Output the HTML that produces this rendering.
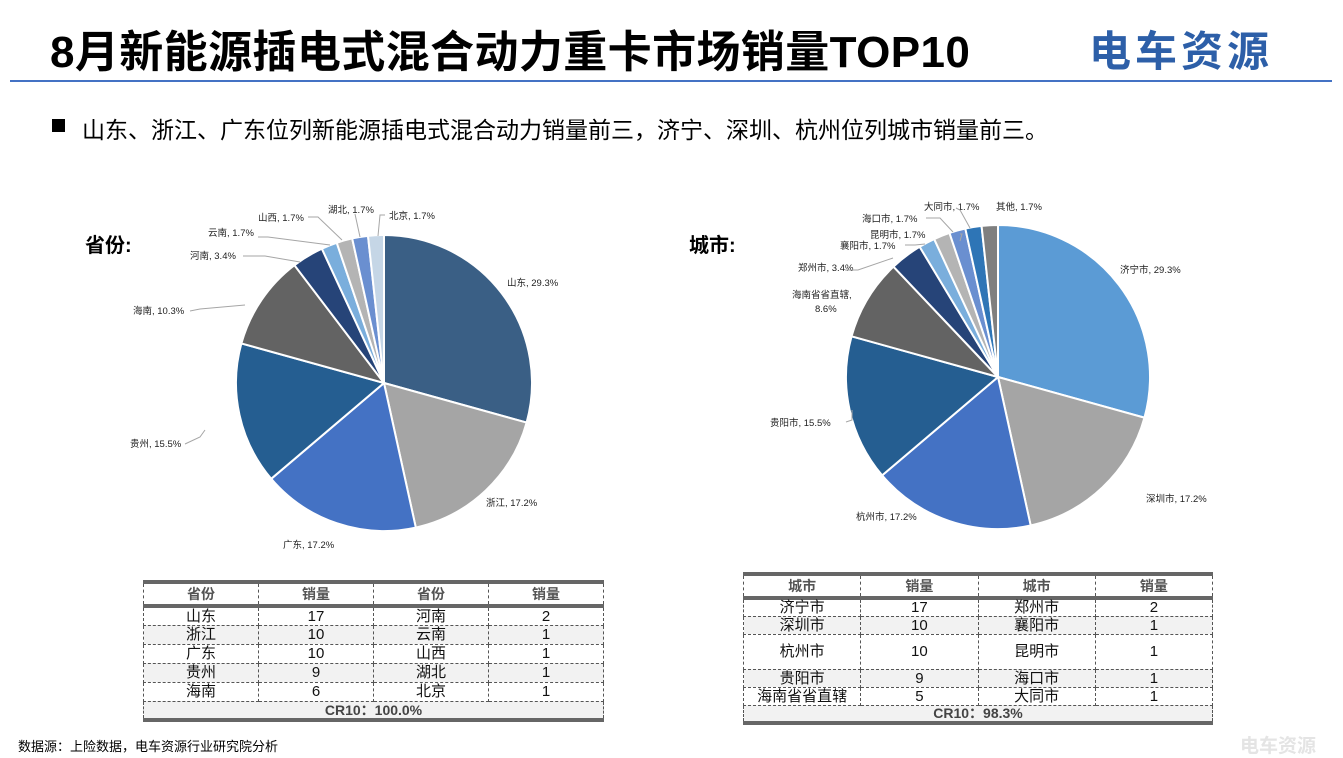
<!DOCTYPE html>
<html><head><meta charset="utf-8"><style>
*{margin:0;padding:0;box-sizing:border-box}
body{width:1343px;height:755px;background:#fff;position:relative;overflow:hidden;font-family:"Liberation Sans","Noto Sans CJK SC",sans-serif;color:#000}
.a{position:absolute;white-space:nowrap}
table{position:absolute;border-collapse:collapse;font-size:15px;text-align:center;color:#111;table-layout:fixed}
td{border:1px dashed #555;padding:0;line-height:1}
th{border:1px dashed #555;color:#555;font-weight:bold;font-size:14px}
tr.g td{background:#f2f2f2}
</style></head><body>
<div class="a" style="left:50px;top:16px;font-size:44px;font-weight:bold;letter-spacing:0.4px">8月新能源插电式混合动力重卡市场销量TOP10</div>
<div class="a" style="left:1089px;top:18px;font-size:42px;font-weight:bold;color:#2d5fa8;letter-spacing:4px">电车资源</div>
<div class="a" style="left:10px;top:80px;width:1322px;height:2px;background:#4472c4"></div>
<div class="a" style="left:52px;top:119px;width:13px;height:13px;background:#000"></div>
<div class="a" style="left:82px;top:111px;font-size:23px">山东、浙江、广东位列新能源插电式混合动力销量前三，济宁、深圳、杭州位列城市销量前三。</div>
<div class="a" style="left:85px;top:229px;font-size:20px;font-weight:bold">省份:</div>
<div class="a" style="left:689px;top:229px;font-size:20px;font-weight:bold">城市:</div>
<svg class="a" style="left:0;top:0" width="1343" height="755" id="s" font-family="Liberation Sans,Noto Sans CJK SC,sans-serif" font-size="9.5" fill="#222"></svg>

<table style="left:143px;top:580px;width:461px;border-top:4px solid #666;border-bottom:4px solid #666;border-left:1px dashed #555;border-right:1px dashed #555">
<tr style="height:19px;border-bottom:4px solid #666"><th>省份</th><th>销量</th><th>省份</th><th>销量</th></tr>
<tr style="height:19px"><td>山东</td><td>17</td><td>河南</td><td>2</td></tr>
<tr class="g" style="height:19px"><td>浙江</td><td>10</td><td>云南</td><td>1</td></tr>
<tr style="height:19px"><td>广东</td><td>10</td><td>山西</td><td>1</td></tr>
<tr class="g" style="height:19px"><td>贵州</td><td>9</td><td>湖北</td><td>1</td></tr>
<tr style="height:19px"><td>海南</td><td>6</td><td>北京</td><td>1</td></tr>
<tr class="g" style="height:19px"><td colspan="4" style="font-weight:bold;color:#444;font-size:14px">CR10：100.0%</td></tr>
</table>

<table style="left:743px;top:572px;width:470px;border-top:4px solid #666;border-bottom:4px solid #666;border-left:1px dashed #555;border-right:1px dashed #555">
<tr style="height:19px;border-bottom:4px solid #666"><th>城市</th><th>销量</th><th>城市</th><th>销量</th></tr>
<tr style="height:18px"><td>济宁市</td><td>17</td><td>郑州市</td><td>2</td></tr>
<tr class="g" style="height:18px"><td>深圳市</td><td>10</td><td>襄阳市</td><td>1</td></tr>
<tr style="height:35px"><td>杭州市</td><td>10</td><td>昆明市</td><td>1</td></tr>
<tr class="g" style="height:18px"><td>贵阳市</td><td>9</td><td>海口市</td><td>1</td></tr>
<tr style="height:18px"><td>海南省省直辖</td><td>5</td><td>大同市</td><td>1</td></tr>
<tr class="g" style="height:18px"><td colspan="4" style="font-weight:bold;color:#444;font-size:14px">CR10：98.3%</td></tr>
</table>

<div class="a" style="left:18px;top:736px;font-size:13px">数据源：上险数据，电车资源行业研究院分析</div>
<div class="a" style="left:1240px;top:731px;font-size:19px;font-weight:bold;color:#e4e4e4">电车资源</div>

<script>
var s=document.getElementById('s'),h='';
function pie(cx,cy,r,vals,cols){var t=vals.reduce((a,b)=>a+b,0),a=-Math.PI/2;
vals.forEach(function(v,i){var b=a+v/t*2*Math.PI;var x1=cx+r*Math.cos(a),y1=cy+r*Math.sin(a),x2=cx+r*Math.cos(b),y2=cy+r*Math.sin(b);
h+='<path d="M'+cx+','+cy+'L'+x1+','+y1+'A'+r+','+r+' 0 '+((b-a)>Math.PI?1:0)+' 1 '+x2+','+y2+'Z" fill="'+cols[i]+'" stroke="#fff" stroke-width="2"/>';a=b;});}
pie(384,383,148,[17,10,10,9,6,2,1,1,1,1],['#3a5f85','#a5a5a5','#4472c4','#255e91','#636363','#264478','#7aaedc','#b4b4b4','#6a8fd0','#c5d6e6']);
pie(998,377,152,[17,10,10,9,5,2,1,1,1,1,1],['#5b9bd5','#a5a5a5','#4472c4','#255e91','#636363','#264478','#7aaedc','#b4b4b4','#6a8fd0','#2e75b6','#7f7f7f']);
var L=[[507,286,'山东, 29.3%'],[486,506,'浙江, 17.2%'],[283,548,'广东, 17.2%'],[130,447,'贵州, 15.5%'],[133,314,'海南, 10.3%'],[190,259,'河南, 3.4%'],[208,236,'云南, 1.7%'],[258,221,'山西, 1.7%'],[328,213,'湖北, 1.7%'],[389,219,'北京, 1.7%'],
[1120,273,'济宁市, 29.3%'],[1146,502,'深圳市, 17.2%'],[856,520,'杭州市, 17.2%'],[770,426,'贵阳市, 15.5%'],[792,298,'海南省省直辖,'],[815,312,'8.6%'],[798,271,'郑州市, 3.4%'],[840,249,'襄阳市, 1.7%'],[870,238,'昆明市, 1.7%'],[862,222,'海口市, 1.7%'],[924,210,'大同市, 1.7%'],[996,210,'其他, 1.7%']];
L.forEach(function(l){h+='<text x="'+l[0]+'" y="'+l[1]+'">'+l[2]+'</text>';});
var P=[[185,444,200,437,205,430],[190,311,200,309,245,305],[243,256,265,256,300,262],[258,237,268,237,330,245],[308,217,318,217,342,240],[355,214,355,214,360,237],[385,215,380,215,378,236],
[846,422,852,420,852,410],[845,270,858,270,893,258],[905,245,915,245,925,244],[960,234,962,234,960,241],[926,218,940,218,953,232],[956,208,960,210,970,228]];
P.forEach(function(p){h+='<polyline points="'+p.join(',')+'" fill="none" stroke="#a6a6a6" stroke-width="1"/>';});
s.innerHTML=h;
</script>
</body></html>
